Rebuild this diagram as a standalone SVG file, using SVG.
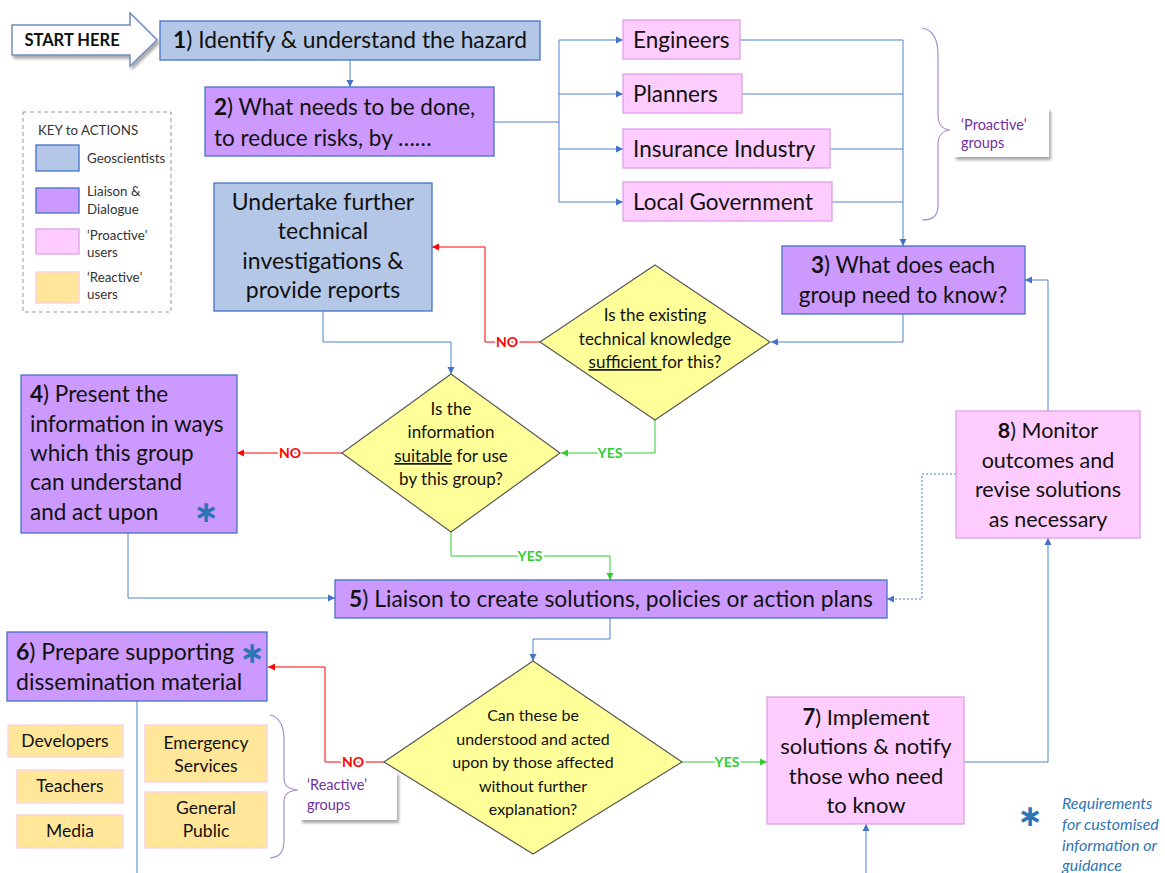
<svg xmlns="http://www.w3.org/2000/svg" width="1165" height="873" viewBox="0 0 1165 873">
<defs>
<marker id="ab" markerUnits="userSpaceOnUse" markerWidth="8" markerHeight="8" refX="7" refY="4" orient="auto"><path d="M0,0.5 L7,4 L0,7.5 z" fill="#4472c4"/></marker>
<marker id="ar" markerUnits="userSpaceOnUse" markerWidth="8" markerHeight="8" refX="7" refY="4" orient="auto"><path d="M0,0.5 L7,4 L0,7.5 z" fill="#ff0000"/></marker>
<marker id="ag" markerUnits="userSpaceOnUse" markerWidth="8" markerHeight="8" refX="7" refY="4" orient="auto"><path d="M0,0.5 L7,4 L0,7.5 z" fill="#33cc33"/></marker>
<filter id="sh" x="-10%" y="-10%" width="130%" height="140%"><feDropShadow dx="2" dy="3" stdDeviation="1.5" flood-color="#000" flood-opacity="0.35"/></filter>
</defs>
<style>
text{font-family:Lato,"Liberation Sans",sans-serif;fill:#111}
.t{font-size:22.5px}
.d{font-size:17px}
.k{font-size:13.3px;fill:#333}
.r{font-size:17.5px}
.c{text-anchor:middle}
.geo{fill:#b4c7e7;stroke:#4472c4;stroke-width:1.3}
.lia{fill:#cc99ff;stroke:#4472c4;stroke-width:1.3}
.pro{fill:#ffccff;stroke:#dda0e8;stroke-width:1.3}
.rea{fill:#ffe699;stroke:#f9d0e0;stroke-width:1.3}
.dia{fill:#ffff99;stroke:#595959;stroke-width:1.2}
.cb{fill:none;stroke:#4f81cf;stroke-width:1}
.cr{fill:none;stroke:#ff0000;stroke-width:1}
.cg{fill:none;stroke:#33cc33;stroke-width:1}
.no{font-size:14px;font-weight:bold;fill:#ff0000;text-anchor:middle;stroke:#fff;stroke-width:4;paint-order:stroke}
.yes{font-size:14px;font-weight:bold;fill:#33cc33;text-anchor:middle;stroke:#fff;stroke-width:4;paint-order:stroke}
.grp{font-size:14.5px;fill:#7030a0}
.ast{font-family:"DejaVu Sans",sans-serif;font-size:30px;font-weight:bold;fill:#2e75b6;text-anchor:middle}
.brace{fill:none;stroke:#a98fd0;stroke-width:1.2}
.leg{font-size:16px;font-style:italic;fill:#2e75b6}
</style>

<g id="start">
<polygon points="12,25 130,25 130,13 157,40 130,66 130,55 12,55" fill="#fff" stroke="#6f8fc0" stroke-width="1.5" filter="url(#sh)"/>
<text x="72" y="46" class="c" style="font-size:16.5px;font-weight:bold">START HERE</text>
</g>

<g id="key">
<rect x="23" y="112" width="148" height="200" fill="#fff" stroke="#999" stroke-dasharray="4,3"/>
<text x="38" y="135" class="k">KEY to ACTIONS</text>
<rect x="36" y="145" width="43" height="26" class="geo"/>
<text x="87" y="163" class="k">Geoscientists</text>
<rect x="36" y="188" width="43" height="25" class="lia"/>
<text x="87" y="196" class="k">Liaison &amp;</text>
<text x="87" y="214" class="k">Dialogue</text>
<rect x="36" y="229" width="43" height="25" class="pro"/>
<text x="87" y="240" class="k">‘Proactive’</text>
<text x="87" y="257" class="k">users</text>
<rect x="36" y="272" width="43" height="31" class="rea"/>
<text x="87" y="282" class="k">‘Reactive’</text>
<text x="87" y="299" class="k">users</text>
</g>

<g id="connectors">
<path class="cb" d="M350,60 V87" marker-end="url(#ab)"/>
<path class="cb" d="M494,122 H559 M559,40 V202"/>
<path class="cb" d="M559,40 H623" marker-end="url(#ab)"/>
<path class="cb" d="M559,94 H623" marker-end="url(#ab)"/>
<path class="cb" d="M559,149 H623" marker-end="url(#ab)"/>
<path class="cb" d="M559,202 H623" marker-end="url(#ab)"/>
<path class="cb" d="M740,40 H903 M742,94 H903 M830,149 H903 M832,202 H903"/>
<path class="cb" d="M903,40 V246" marker-end="url(#ab)"/>
<path class="cb" d="M903,314 V342 H771" marker-end="url(#ab)"/>
<path class="cr" d="M540,342 H485 V247 H432" marker-end="url(#ar)"/>
<path class="cg" d="M655,420 V453 H561" marker-end="url(#ag)"/>
<path class="cb" d="M323,311 V342 H451 V374" marker-end="url(#ab)"/>
<path class="cr" d="M342,453 H237" marker-end="url(#ar)"/>
<path class="cg" d="M451,532 V556 H610 V580" marker-end="url(#ag)"/>
<path class="cb" d="M128,533 V598 H335" marker-end="url(#ab)"/>
<path class="cb" d="M610,618 V639 H533 V661" marker-end="url(#ab)"/>
<path class="cg" d="M682,762 H767" marker-end="url(#ag)"/>
<path class="cr" d="M384,762 H325 V667 H268" marker-end="url(#ar)"/>
<path class="cb" d="M964,762 H1048 V538" marker-end="url(#ab)"/>
<path class="cb" d="M1048,411 V280 H1025" marker-end="url(#ab)"/>
<path class="cb" d="M956,474 H922 V599 H887" stroke-dasharray="2,2" stroke="#7f9cc8" marker-end="url(#ab)"/>
<path class="cb" d="M866,873 V824" marker-end="url(#ab)"/>
<path class="cb" d="M137,701 V873"/>
<text x="507" y="347" class="no">NO</text>
<text x="610" y="458" class="yes">YES</text>
<text x="290" y="458" class="no">NO</text>
<text x="530" y="561" class="yes">YES</text>
<text x="727" y="767" class="yes">YES</text>
<text x="353" y="767" class="no">NO</text>
</g>

<g id="n1">
<rect x="160" y="21" width="380" height="39" class="geo"/>
<text x="350" y="48" class="t c" style="font-size:22.8px"><tspan font-weight="bold">1</tspan>) Identify &amp; understand the hazard</text>
</g>

<g id="n2">
<rect x="205" y="87" width="289" height="69" class="lia"/>
<text x="214" y="115" class="t"><tspan font-weight="bold">2</tspan>) What needs to be done,</text>
<text x="214" y="146" class="t">to reduce risks, by ……</text>
</g>

<g id="engineers"><rect x="623" y="20" width="117" height="39" class="pro"/><text x="633" y="48" class="t">Engineers</text></g>
<g id="planners"><rect x="623" y="74" width="119" height="39" class="pro"/><text x="633" y="102" class="t">Planners</text></g>
<g id="insurance"><rect x="623" y="129" width="207" height="39" class="pro"/><text x="633" y="157" class="t">Insurance Industry</text></g>
<g id="localgov"><rect x="623" y="182" width="209" height="39" class="pro"/><text x="633" y="210" class="t">Local Government</text></g>

<g id="proactive-groups">
<path class="brace" d="M922,28 C934,30 938,40 938,55 L938,115 C938,125 942,129 950,130 C942,131 938,135 938,145 L938,205 C938,215 934,220 922,220"/>
<rect x="954" y="108" width="95" height="49" fill="#fff" filter="url(#sh)"/>
<text x="961" y="130" class="grp">‘Proactive’</text>
<text x="961" y="148" class="grp">groups</text>
</g>

<g id="n3">
<rect x="782" y="246" width="243" height="68" class="lia"/>
<text x="903" y="273" class="t c"><tspan font-weight="bold">3</tspan>) What does each</text>
<text x="903" y="303" class="t c">group need to know?</text>
</g>

<g id="undertake">
<rect x="214" y="183" width="218" height="128" class="geo"/>
<text x="323" y="210" class="t c" style="font-size:23px">Undertake further</text>
<text x="323" y="239" class="t c" style="font-size:23px">technical</text>
<text x="323" y="269" class="t c" style="font-size:23px">investigations &amp;</text>
<text x="323" y="298" class="t c" style="font-size:23px">provide reports</text>
</g>

<g id="q1">
<polygon points="655,265 770,342 655,420 540,342" class="dia"/>
<text x="655" y="321" class="d c">Is the existing</text>
<text x="655" y="345" class="d c">technical knowledge</text>
<text x="655" y="368" class="d c"><tspan text-decoration="underline">sufficient </tspan>for this?</text>
</g>

<g id="q2">
<polygon points="451,374 560,453 451,532 342,453" class="dia"/>
<text x="451" y="415" class="d c">Is the</text>
<text x="451" y="438" class="d c">information</text>
<text x="451" y="462" class="d c"><tspan text-decoration="underline">suitable</tspan> for use</text>
<text x="451" y="485" class="d c">by this group?</text>
</g>

<g id="n4">
<rect x="21" y="375" width="216" height="158" class="lia"/>
<text x="30" y="402" class="t"><tspan font-weight="bold">4</tspan>) Present the</text>
<text x="30" y="432" class="t">information in ways</text>
<text x="30" y="461" class="t">which this group</text>
<text x="30" y="490" class="t">can understand</text>
<text x="30" y="520" class="t">and act upon</text>
<text x="206" y="522" class="ast">∗</text>
</g>

<g id="n8">
<rect x="956" y="411" width="184" height="127" class="pro"/>
<text x="1048" y="438" class="t c" style="font-size:21.5px"><tspan font-weight="bold">8</tspan>) Monitor</text>
<text x="1048" y="468" class="t c" style="font-size:21.5px">outcomes and</text>
<text x="1048" y="497" class="t c" style="font-size:21.5px">revise solutions</text>
<text x="1048" y="527" class="t c" style="font-size:21.5px">as necessary</text>
</g>

<g id="n5">
<rect x="335" y="580" width="552" height="38" class="lia"/>
<text x="611" y="607" class="t c" style="font-size:22.8px"><tspan font-weight="bold">5</tspan>) Liaison to create solutions, policies or action plans</text>
</g>

<g id="n6">
<rect x="7" y="632" width="260" height="69" class="lia"/>
<text x="16" y="660" class="t" style="font-size:23px"><tspan font-weight="bold">6</tspan>) Prepare supporting</text>
<text x="16" y="690" class="t" style="font-size:23px">dissemination material</text>
<text x="252" y="663" class="ast">∗</text>
</g>

<g id="q3">
<polygon points="533,661 682,762 533,854 384,762" class="dia"/>
<text x="533" y="721" class="d c" style="font-size:16px">Can these be</text>
<text x="533" y="745" class="d c" style="font-size:16px">understood and acted</text>
<text x="533" y="768" class="d c" style="font-size:16px">upon by those affected</text>
<text x="533" y="792" class="d c" style="font-size:16px">without further</text>
<text x="533" y="815" class="d c" style="font-size:16px">explanation?</text>
</g>

<g id="n7">
<rect x="767" y="697" width="197" height="127" class="pro"/>
<text x="866" y="725" class="t c" style="font-size:22px"><tspan font-weight="bold">7</tspan>) Implement</text>
<text x="866" y="754" class="t c" style="font-size:22px">solutions &amp; notify</text>
<text x="866" y="784" class="t c" style="font-size:22px">those who need</text>
<text x="866" y="813" class="t c" style="font-size:22px">to know</text>
</g>

<g id="developers"><rect x="8" y="725" width="115" height="32" class="rea"/><text x="65" y="747" class="r c">Developers</text></g>
<g id="teachers"><rect x="17" y="770" width="106" height="33" class="rea"/><text x="70" y="792" class="r c">Teachers</text></g>
<g id="media"><rect x="17" y="815" width="106" height="33" class="rea"/><text x="70" y="837" class="r c">Media</text></g>
<g id="emergency"><rect x="145" y="725" width="122" height="57" class="rea"/><text x="206" y="749" class="r c">Emergency</text><text x="206" y="772" class="r c">Services</text></g>
<g id="public"><rect x="145" y="792" width="122" height="56" class="rea"/><text x="206" y="814" class="r c">General</text><text x="206" y="837" class="r c">Public</text></g>

<g id="reactive-groups">
<path class="brace" d="M270,715 C280,717 284,725 284,740 L284,778 C284,786 288,789 298,790 C288,791 284,794 284,802 L284,840 C284,852 280,857 270,858"/>
<rect x="300" y="772" width="97" height="48" fill="#fff" filter="url(#sh)"/>
<text x="307" y="790" class="grp">‘Reactive’</text>
<text x="307" y="810" class="grp">groups</text>
</g>

<g id="legend">
<text x="1030" y="826" class="ast">∗</text>
<text x="1062" y="809" class="leg">Requirements</text>
<text x="1062" y="830" class="leg">for customised</text>
<text x="1062" y="851" class="leg">information or</text>
<text x="1062" y="871" class="leg">guidance</text>
</g>
</svg>
